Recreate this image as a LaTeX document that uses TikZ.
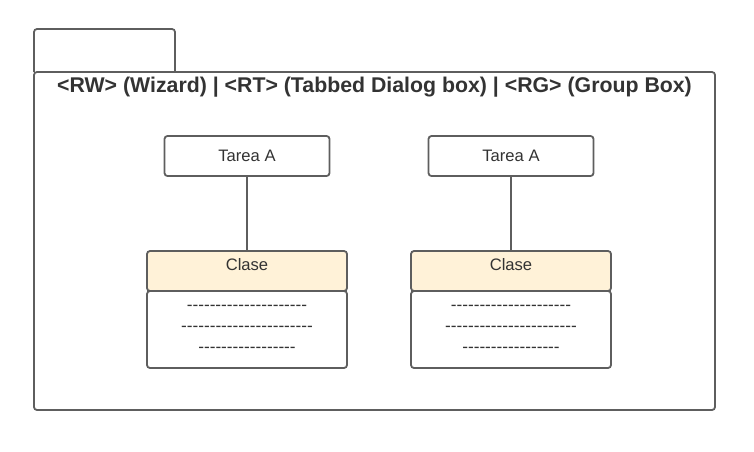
\documentclass[tikz,border=0pt]{standalone}
\usepackage{fontspec}
\setmainfont{Liberation Sans}
\usetikzlibrary{positioning}

\definecolor{edgegray}{HTML}{5E5E5E}
\definecolor{txtgray}{HTML}{333333}
\definecolor{clasefill}{HTML}{FFF2D8}

% a run of single hyphens (no en/em dash ligatures)
\newcommand{\hyphenrun}[1]{\foreach \k in {1,...,#1}{-{}}}

\begin{document}
\begin{tikzpicture}[
  x=1pt, y=-1pt,
  font=\fontsize{16.6}{19}\selectfont, text=txtgray,
  frame/.style={draw=edgegray, line width=1.8pt, rounded corners=3pt},
  tarea/.style={frame, fill=white, minimum width=165pt, minimum height=40pt, inner sep=0pt},
  clasehead/.style={frame, fill=clasefill, minimum width=200pt, minimum height=40pt,
    inner sep=0pt},
  clasebody/.style={frame, fill=white, minimum width=200pt, minimum height=77pt,
    inner sep=0pt},
  dashrow/.style={font=\fontsize{17.2}{18}\selectfont, inner sep=0pt},
  link/.style={draw=edgegray, line width=1.6pt}
]
\useasboundingbox (0,0) rectangle (754,451);

% the package tab and frame
\draw[frame] (34,72) -- (34,29) -- (175,29) -- (175,72);
\draw[frame] (34,72) rectangle (715,410);
\node[font=\bfseries\fontsize{21.3}{23}\selectfont] (title) at (374.5,87.5)
  {<RW> (Wizard) | <RT> (Tabbed Dialog box) | <RG> (Group Box)};

% the two tasks with their classes
\foreach \n/\cx in {a/247, b/511} {
  \node[tarea] (tarea\n) at (\cx,156) {};
  \node at (tarea\n.center) {Tarea A};
  \node[clasehead] (head\n) at (\cx,271) {};
  \node[anchor=north, inner sep=0pt] at ([yshift=-8pt]head\n.north) {Clase};
  \node[clasebody] (body\n) at (\cx,329.5) {};
  \node[dashrow] (row\n1) at (\cx,308) {\hyphenrun{21}};
  \node[dashrow] (row\n2) at (\cx,329) {\hyphenrun{23}};
  \node[dashrow] (row\n3) at (\cx,350) {\hyphenrun{17}};
  \draw[link] (tarea\n) -- (head\n);
}

\end{tikzpicture}
\end{document}
